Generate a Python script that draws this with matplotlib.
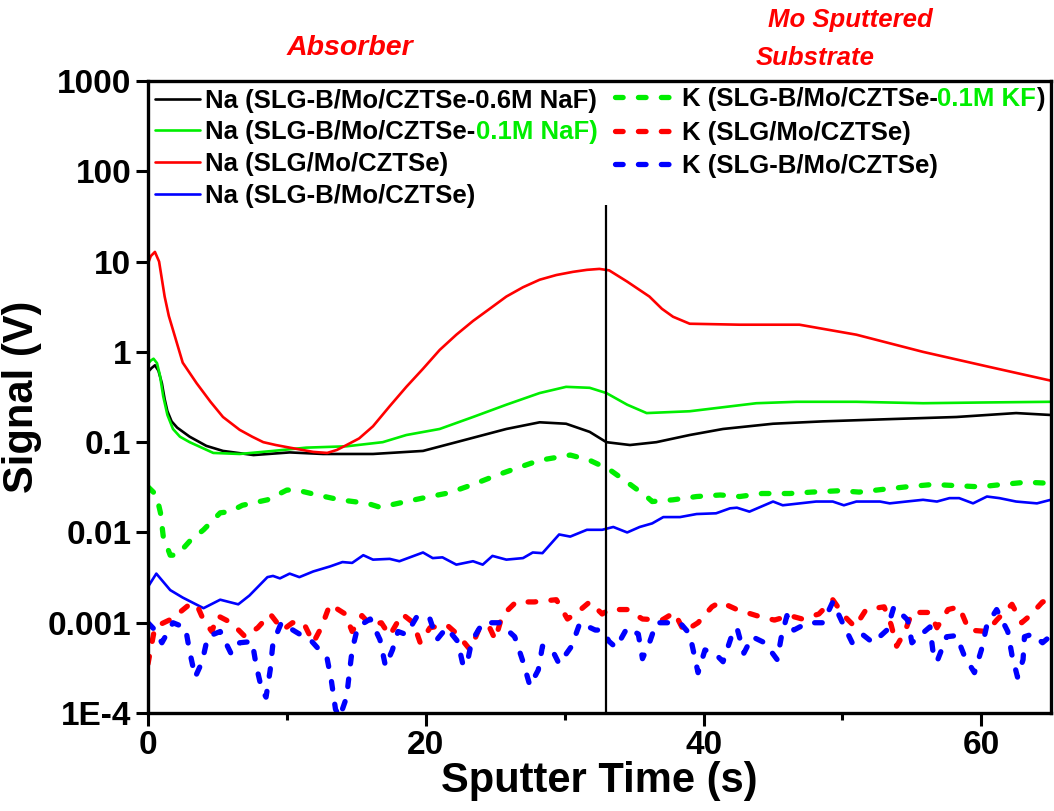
import numpy as np
import matplotlib
matplotlib.use("Agg")
import matplotlib.pyplot as plt

plt.rcParams['font.family'] = ['Liberation Sans', 'DejaVu Sans']
plt.rcParams['font.weight'] = 'bold'
plt.rcParams['lines.scale_dashes'] = False

# Na signals (solid lines)
na_06_x = [0, 0.25, 0.5, 0.75, 1.0, 1.2, 1.4, 1.7, 2.1, 3.0, 4.2, 5.4, 7.6, 10.2, 12.6, 16.2, 19.8, 22.2,
           25.8, 28.2, 30.1, 31.8, 33, 34.7, 36.6, 39, 41.4, 45, 48.6, 53.4, 58.2, 62.5, 65]
na_06_y = [0.6, 0.66, 0.71, 0.62, 0.45, 0.3, 0.22, 0.17, 0.145, 0.115, 0.091, 0.08, 0.072, 0.077, 0.074,
           0.074, 0.08, 0.1, 0.14, 0.166, 0.16, 0.13, 0.1, 0.093, 0.1, 0.12, 0.14, 0.16, 0.17, 0.18,
           0.19, 0.21, 0.2]

na_01_x = [0, 0.2, 0.4, 0.65, 0.86, 1.1, 1.4, 1.8, 2.3, 3.0, 4.7, 6.6, 9.0, 11.4, 14.3, 16.9, 18.6, 21,
           23.4, 25.8, 28.2, 30.1, 31.8, 33, 34.5, 35.9, 39, 43.8, 46.7, 51, 55.8, 60, 65]
na_01_y = [0.74, 0.8, 0.84, 0.75, 0.55, 0.32, 0.2, 0.14, 0.115, 0.1, 0.076, 0.074, 0.08, 0.087, 0.09,
           0.1, 0.12, 0.14, 0.19, 0.26, 0.35, 0.41, 0.4, 0.35, 0.26, 0.21, 0.22, 0.27, 0.28, 0.28,
           0.27, 0.275, 0.28]

na_slg_x = [0, 0.2, 0.5, 0.8, 1.2, 1.5, 1.8, 2.5, 3.5, 4.5, 5.4, 6.6, 7.5, 8.3, 9.2, 10.2, 11.9, 12.9,
            13.6, 14.3, 15.2, 16.2, 17.4, 18.6, 19.8, 21.0, 22.2, 23.4, 24.6, 25.8, 27.0, 28.2, 29.4,
            30.6, 31.6, 32.5, 33.2, 34.5, 36.1, 37.0, 37.8, 39.0, 42.6, 46.9, 51.0, 55.8, 60.6, 65]
na_slg_y = [9.5, 11.5, 12.8, 10.0, 4.1, 2.5, 1.75, 0.76, 0.45, 0.28, 0.19, 0.137, 0.115, 0.1, 0.093,
            0.087, 0.078, 0.076, 0.082, 0.093, 0.11, 0.15, 0.25, 0.41, 0.65, 1.05, 1.55, 2.2, 3.0,
            4.1, 5.2, 6.3, 7.1, 7.7, 8.1, 8.3, 8.0, 6.0, 4.1, 3.0, 2.45, 2.05, 2.0, 2.0, 1.55, 1.0,
            0.68, 0.48]

na_slgb_x = [0, 0.6, 1.6, 2.5, 4.0, 5.2, 6.5, 7.3, 8.6, 9.0, 9.5, 10.2, 10.9, 11.9, 13.1, 14.0, 14.7,
             15.5, 16.2, 17.4, 18.1, 19.8, 20.5, 21.2, 22.2, 23.4, 24.1, 24.8, 25.8, 27.0, 27.7, 28.4,
             29.6, 30.4, 31.6, 32.7, 33.5, 34.5, 35.4, 36.3, 37.1, 38.3, 39.5, 40.9, 41.9, 42.4, 43.3,
             45.0, 45.7, 48.1, 49.3, 50.1, 51.0, 52.7, 53.4, 54.6, 55.8, 56.8, 57.7, 58.4, 59.4, 60.4,
             61.3, 62.5, 64.0, 65]
na_slgb_y = [0.0025, 0.0035, 0.0023, 0.0019, 0.00145, 0.0018, 0.0016, 0.002, 0.0032, 0.0033, 0.0031,
             0.0035, 0.0032, 0.0037, 0.0042, 0.0047, 0.0046, 0.0056, 0.005, 0.0051, 0.0048, 0.006,
             0.0052, 0.0053, 0.0044, 0.0048, 0.0044, 0.0055, 0.005, 0.0052, 0.006, 0.0059, 0.0095,
             0.009, 0.0107, 0.0107, 0.0115, 0.01, 0.0115, 0.0126, 0.0148, 0.0148, 0.016, 0.0163,
             0.0185, 0.0188, 0.017, 0.022, 0.02, 0.022, 0.022, 0.02, 0.022, 0.022, 0.021, 0.022,
             0.023, 0.022, 0.024, 0.024, 0.021, 0.025, 0.024, 0.022, 0.021, 0.023]

# K signals (dashed lines)
k_01_x = [0, 0.6, 0.9, 1.1, 1.6, 2.1, 3.0, 4.0, 5.2, 5.9, 6.8, 8.6, 10.0, 10.7, 12.2, 13.8, 15.8, 16.7,
          18.6, 20.3, 21.7, 23.4, 25.1, 26.3, 28.2, 30.4, 31.8, 33.2, 34.5, 35.9, 36.3, 37.8, 39.5,
          41.2, 42.6, 44.2, 46.2, 47.8, 49.8, 51.2, 52.9, 54.6, 56.5, 58.2, 59.9, 61.5, 63.2, 65]
k_01_y = [0.032, 0.026, 0.0165, 0.009, 0.0056, 0.0056, 0.008, 0.0107, 0.0165, 0.017, 0.02, 0.023,
          0.0295, 0.0295, 0.026, 0.023, 0.021, 0.019, 0.022, 0.025, 0.0275, 0.034, 0.043, 0.05, 0.063,
          0.072, 0.063, 0.05, 0.036, 0.025, 0.022, 0.023, 0.025, 0.026, 0.025, 0.027, 0.027, 0.028,
          0.029, 0.028, 0.03, 0.032, 0.034, 0.033, 0.032, 0.034, 0.036, 0.035]

k_slg_x = [0, 0.5, 1.7, 3.0, 3.5, 4.0, 4.6, 5.0, 6.0, 7.0, 7.9, 8.8, 9.7, 10.4, 11.2, 11.9, 12.5, 13.1,
           14.2, 14.7, 15.4, 16.0, 16.8, 17.4, 18.3, 19.1, 19.6, 20.3, 21.5, 22.3, 23.2, 23.8, 24.5,
           25.0, 25.5, 26.5, 27.8, 29.4, 30.2, 30.9, 31.8, 32.7, 33.2, 34.5, 35.6, 37.0, 37.9, 38.6,
           39.6, 40.6, 41.2, 42.4, 43.8, 45.1, 46.2, 47.1, 48.3, 49.3, 50.1, 50.9, 51.7, 53.0, 53.5,
           53.9, 54.5, 55.0, 56.3, 56.8, 57.6, 58.4, 59.1, 60.4, 61.1, 62.2, 62.9, 63.5, 64.4, 65]
k_slg_y = [0.00035, 0.0009, 0.0011, 0.0016, 0.0016, 0.00107, 0.0008, 0.0012, 0.001, 0.0007, 0.00088,
           0.00125, 0.00083, 0.001, 0.001, 0.0006, 0.0009, 0.0016, 0.00125, 0.0008, 0.0012, 0.00095,
           0.001, 0.00072, 0.00125, 0.001, 0.0006, 0.00088, 0.00095, 0.00074, 0.0005, 0.00083,
           0.00095, 0.00065, 0.0012, 0.0017, 0.0017, 0.0018, 0.0011, 0.0013, 0.0017, 0.00125, 0.0014,
           0.0014, 0.0011, 0.00107, 0.0013, 0.0008, 0.001, 0.0015, 0.0017, 0.0014, 0.0012, 0.00107,
           0.0012, 0.0011, 0.00125, 0.0018, 0.0012, 0.0009, 0.0014, 0.0015, 0.00095, 0.00055, 0.0008,
           0.0013, 0.0013, 0.00088, 0.0014, 0.0015, 0.00083, 0.0008, 0.00107, 0.0016, 0.001, 0.0012,
           0.0017, 0.0018]

k_slgb_x = [0, 0.5, 1.0, 1.8, 2.7, 3.0, 3.4, 3.9, 4.3, 5.2, 6.0, 6.6, 7.5, 7.8, 8.2, 8.5, 8.8, 9.0, 9.6,
            10.6, 11.8, 12.9, 13.2, 13.5, 13.8, 14.3, 14.5, 14.7, 15.1, 16.0, 16.7, 17.1, 17.6, 18.0,
            18.6, 19.4, 20.3, 20.8, 21.5, 22.3, 22.7, 23.0, 23.3, 24.1, 25.3, 26.4, 27.0, 27.5, 28.1,
            28.4, 29.1, 29.6, 30.5, 31.1, 32.2, 32.7, 33.2, 33.7, 34.5, 35.3, 35.6, 36.1, 36.6, 37.4,
            38.3, 39.0, 39.4, 39.6, 40.1, 40.8, 41.4, 42.0, 42.4, 42.9, 43.5, 44.4, 45.3, 45.6, 46.0,
            46.5, 47.5, 48.6, 49.3, 50.0, 50.7, 51.4, 52.2, 53.2, 53.7, 54.7, 55.0, 55.7, 56.3, 56.5,
            56.8, 57.5, 58.2, 58.8, 59.5, 60.0, 60.4, 61.1, 61.9, 62.2, 62.6, 63.0, 63.1, 63.7, 64.4, 65]
k_slgb_y = [0.001, 0.00083, 0.0006, 0.001, 0.00088, 0.00048, 0.00025, 0.00037, 0.0007, 0.0008, 0.00045,
            0.0006, 0.00062, 0.00033, 0.00018, 0.00015, 0.0003, 0.0006, 0.001, 0.0008, 0.00062, 0.0004,
            0.00023, 0.00011, 0.00009, 0.00015, 0.00028, 0.0005, 0.0009, 0.0011, 0.00065, 0.00033,
            0.0005, 0.0008, 0.00074, 0.0012, 0.0011, 0.00065, 0.00088, 0.00062, 0.00033, 0.00037,
            0.00062, 0.001, 0.001, 0.0007, 0.00037, 0.0002, 0.0003, 0.00055, 0.0005, 0.00035, 0.00055,
            0.001, 0.00083, 0.00083, 0.00062, 0.00053, 0.00088, 0.00075, 0.0004, 0.0006, 0.001, 0.001,
            0.001, 0.00075, 0.00039, 0.00028, 0.0005, 0.00046, 0.00037, 0.0007, 0.00088, 0.00046,
            0.0007, 0.0006, 0.00039, 0.0007, 0.0012, 0.00083, 0.001, 0.001, 0.0017, 0.001, 0.0006,
            0.00075, 0.0006, 0.00083, 0.0015, 0.00107, 0.0006, 0.00075, 0.0009, 0.0005, 0.00037,
            0.0007, 0.00072, 0.00042, 0.00028, 0.0005, 0.00095, 0.0014, 0.0008, 0.00044, 0.00025,
            0.00039, 0.0007, 0.00075, 0.0006, 0.00072]

yticks = [1e-4, 1e-3, 1e-2, 1e-1, 1, 10, 100, 1000]
ytick_labels = ['1E-4', '0.001', '0.01', '0.1', '1', '10', '100', '1000']
xticks = [0, 20, 40, 60]
xticks_minor = [10, 30, 50]
boundary_x = 33
boundary_top = 42

RED = '#ff0000'
GREEN = '#00ee00'
BLUE = '#0000ff'

fig = plt.figure(figsize=(10.54, 8.11), dpi=100)
ax = fig.add_axes([0.1404, 0.1208, 0.8566, 0.7793])

solid = dict(lw=1.9, solid_capstyle='round', solid_joinstyle='round')
dashed = dict(lw=3.8, dashes=(5.5, 11.0), dash_capstyle='round')

h1, = ax.plot(na_06_x, na_06_y, color='black', **solid)
h2, = ax.plot(na_01_x, na_01_y, color=GREEN, **solid)
h3, = ax.plot(na_slg_x, na_slg_y, color=RED, **solid)
h4, = ax.plot(na_slgb_x, na_slgb_y, color=BLUE, **solid)
h5, = ax.plot(k_01_x, k_01_y, color=GREEN, **dashed)
h6, = ax.plot(k_slg_x, k_slg_y, color=RED, **dashed)
h7, = ax.plot(k_slgb_x, k_slgb_y, color=BLUE, **dashed)

ax.vlines(boundary_x, 1e-4, boundary_top, color='black', lw=1.6)

ax.set_yscale('log')
ax.set_xlim(0, 65)
ax.set_ylim(1e-4, 1000)
ax.set_yticks(yticks)
ax.set_yticklabels(ytick_labels)
ax.yaxis.set_minor_locator(matplotlib.ticker.NullLocator())
ax.set_xticks(xticks)
ax.set_xticks(xticks_minor, minor=True)
ax.tick_params(which='major', direction='out', length=9, width=2.2, labelsize=24, pad=3)
ax.tick_params(which='minor', direction='out', length=5, width=2.2)
ax.tick_params(axis='y', which='both', right=False)
ax.tick_params(axis='x', which='both', top=False)
for s in ax.spines.values():
    s.set_linewidth(2.4)

ax.set_xlabel('Sputter Time (s)', fontsize=30, fontweight='bold', labelpad=0)
ax.set_ylabel('Signal (V)', fontsize=30, fontweight='bold', labelpad=4)

# region labels above the axes
fig.text(350 / 1054, 1 - 48 / 811, 'Absorber', color=RED, fontsize=20.5, fontstyle='italic',
         fontweight='bold', ha='center', va='center')
fig.text(850 / 1054, 1 - 20 / 811, 'Mo Sputtered', color=RED, fontsize=18.5, fontstyle='italic',
         fontweight='bold', ha='center', va='center')
fig.text(815 / 1054, 1 - 58 / 811, 'Substrate', color=RED, fontsize=18.5, fontstyle='italic',
         fontweight='bold', ha='center', va='center')

LEG_SIZE = 18.5
leg_font = {'size': LEG_SIZE, 'weight': 'bold'}
leg1 = ax.legend([h1, h2, h3, h4],
                 ['Na (SLG-B/Mo/CZTSe-0.6M NaF)', 'Na (SLG-B/Mo/CZTSe-', 'Na (SLG/Mo/CZTSe)',
                  'Na (SLG-B/Mo/CZTSe)'],
                 loc='upper left', bbox_to_anchor=(0.008, 0.988), frameon=False, prop=leg_font,
                 handlelength=1.75, handletextpad=0.2, labelspacing=0.3, borderpad=0,
                 borderaxespad=0)
ax.add_artist(leg1)
leg2 = ax.legend([h5, h6, h7], ['K (SLG-B/Mo/CZTSe-', 'K (SLG/Mo/CZTSe)', 'K (SLG-B/Mo/CZTSe)'],
                 loc='upper left', bbox_to_anchor=(0.517, 0.99), frameon=False, prop=leg_font,
                 handlelength=2.5, handletextpad=0.1, labelspacing=0.36, borderpad=0,
                 borderaxespad=0)

# coloured tails of the legend labels (drawn after the legends)
t1 = leg1.get_texts()[1]
ax.annotate('0.1M NaF)', xy=(1, 0), xycoords=t1, ha='left', va='bottom', color=GREEN,
            fontsize=LEG_SIZE, fontweight='bold', zorder=10)
t2 = leg2.get_texts()[0]
g2 = ax.annotate('0.1M KF', xy=(1, 0), xycoords=t2, ha='left', va='bottom', color=GREEN,
                 fontsize=LEG_SIZE, fontweight='bold', zorder=10)
ax.annotate(')', xy=(1, 0), xycoords=g2, ha='left', va='bottom', color='black',
            fontsize=LEG_SIZE, fontweight='bold', zorder=11)

fig.savefig('out.png', dpi=100)
